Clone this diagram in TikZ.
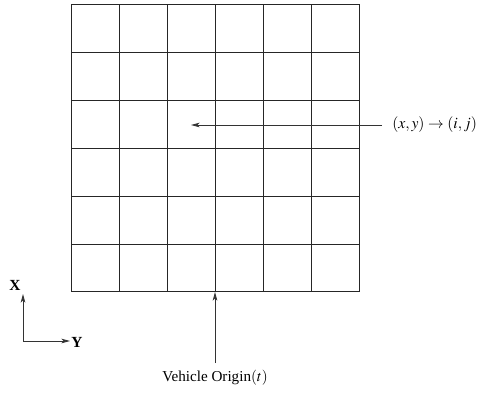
\documentclass[tikz,border=0pt]{standalone}
\usepackage{mathptmx}
\usepackage{fontspec}
\setmainfont{Liberation Serif}
\usetikzlibrary{arrows.meta}
\begin{document}
\begin{tikzpicture}[x=0.7pt,y=-0.7pt,
  gridline/.style={line width=0.6pt,draw=black!85},
  conn/.style={line width=0.55pt,draw=black!80,-{Stealth[length=6pt,width=3.2pt,inset=1.5pt]}},
  lbl/.style={font=\fontsize{10.6}{12.5}\selectfont,inner sep=0pt},
  mlbl/.style={font=\fontsize{11}{13}\selectfont,inner sep=0pt},
  axlbl/.style={font=\fontsize{10.8}{12.5}\selectfont\bfseries,inner sep=0pt}]
\useasboundingbox (0,0) rectangle (480,393);
% grid
\foreach \i in {0,...,6} {
  \draw[gridline] ({71+48*\i},4.5) -- ({71+48*\i},292);
  \draw[gridline] (71,{4.5+47.9*\i}) -- (359,{4.5+47.9*\i});
}
\coordinate (cell) at (191,125);
\coordinate (base) at (215,292);
\coordinate (maptail) at (382,125);
\coordinate (vehtail) at (215,363);
\coordinate (O) at (23,341);
\coordinate (Xtip) at (23,294);
\coordinate (Ytip) at (70,341);
% labels
\node[mlbl,anchor=west] (map) at (392,125) {$(x,y)\rightarrow(i,j)$};
\node[lbl] (veh) at (215,378) {Vehicle Origin$(t)$};
\node[axlbl] (X) at (15,285) {X};
\node[axlbl] (Y) at (77,342) {Y};
% connectors
\draw[conn] (maptail) -- (cell);
\draw[conn] (vehtail) -- (base);
\draw[conn] (O) -- (Xtip);
\draw[conn] (O) -- (Ytip);
\end{tikzpicture}
\end{document}
